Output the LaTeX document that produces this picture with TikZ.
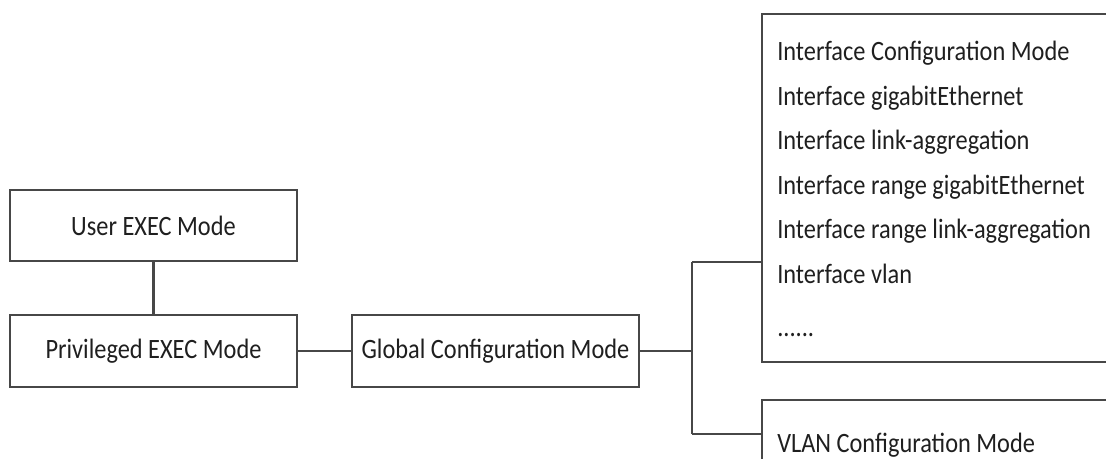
\documentclass[tikz,border=0pt]{standalone}
\usepackage{fontspec}
\setmainfont{Carlito}[FakeStretch=0.87]
\begin{document}
\begin{tikzpicture}[x=0.75pt,y=-0.75pt,
  every node/.style={font=\fontsize{21}{24}\selectfont, text=black!88},
  modebox/.style={draw=black!72, line width=1.6pt, minimum width=215.25pt, minimum height=53.6pt, inner sep=0pt},
  bigbox/.style={draw=black!72, line width=1.6pt, anchor=north west, inner sep=0pt},
  item/.style={anchor=base west, inner sep=0pt},
  link/.style={draw=black!72, line width=1.6pt}]
\useasboundingbox (0,0) rectangle (1106,459);
\clip (0,0) rectangle (1106,459);
\fill[white] (0,0) rectangle (1106,459);

\node[modebox] (user) at (153.5,225.5) {User EXEC Mode};
\node[modebox] (priv) at (153.5,351) {Privileged EXEC Mode};
\node[modebox] (glob) at (495.5,351) {Global Configuration Mode};

\node[bigbox, minimum width=270pt, minimum height=261pt] (iface) at (761,13) {};
\node[bigbox, minimum width=270pt, minimum height=80pt] (vlan) at (761,399) {};

\node[item] (i1) at (777,61) {Interface Configuration Mode};
\node[item] (i2) at (777,105.5) {Interface gigabitEthernet};
\node[item] (i3) at (777,150) {Interface link-aggregation};
\node[item] (i4) at (777,194.5) {Interface range gigabitEthernet};
\node[item] (i5) at (777,239) {Interface range link-aggregation};
\node[item] (i6) at (777,283.5) {Interface vlan};
\node[item] (i7) at (777,337) {......};
\node[item] (v1) at (777,452) {VLAN Configuration Mode};

\coordinate (j) at (692,351);
\coordinate (jt) at (692,262);
\coordinate (jb) at (692,434);

\draw[link] (user.south) -- (priv.north);
\draw[link] (priv.east) -- (glob.west);
\draw[link] (glob.east) -- (j);
\draw[link] (jt) -- (jb);
\draw[link] (jt) -- (jt -| iface.west);
\draw[link] (jb) -- (jb -| vlan.west);
\end{tikzpicture}
\end{document}
